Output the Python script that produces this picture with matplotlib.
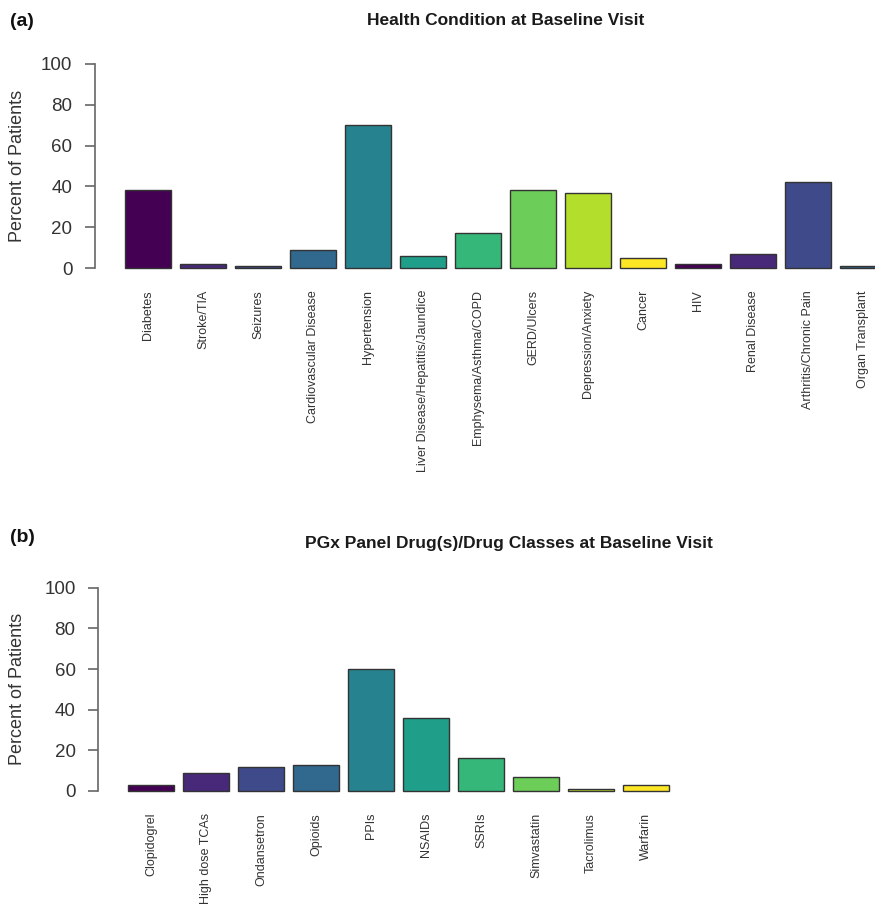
import matplotlib
matplotlib.use("Agg")
import matplotlib.pyplot as plt
import numpy as np

plt.rcParams['font.family'] = ['Liberation Sans', 'DejaVu Sans']

# panel (a)
conditions = ["Diabetes", "Stroke/TIA", "Seizures", "Cardiovascular Disease",
              "Hypertension", "Liver Disease/Hepatitis/Jaundice",
              "Emphysema/Asthma/COPD", "GERD/Ulcers", "Depression/Anxiety",
              "Cancer", "HIV", "Renal Disease", "Arthritis/Chronic Pain",
              "Organ Transplant"]
condition_pct = [38, 2, 1, 9, 70, 6, 17, 38, 37, 5, 2, 7, 42, 1]

# panel (b)
drugs = ["Clopidogrel", "High dose TCAs", "Ondansetron", "Opioids", "PPIs",
         "NSAIDs", "SSRIs", "Simvastatin", "Tacrolimus", "Warfarin"]
drug_pct = [3, 9, 12, 13, 60, 36, 16, 7, 1, 3]

# viridis(10) as R gives it, recycled over the bars
viridis10 = ["#440154", "#482878", "#3E4A89", "#31688E", "#26828E",
             "#1F9E89", "#35B779", "#6DCD59", "#B4DE2C", "#FDE725"]

W, H = 875, 905
fig = plt.figure(figsize=(W / 100, H / 100), dpi=100)


def draw_panel(rect, names, values, title, letter, letter_y):
    ax = fig.add_axes(rect)
    n = len(names)
    # R barplot layout: width 1, space 0.2
    x = 0.7 + 1.2 * np.arange(n)
    cols = [viridis10[i % 10] for i in range(n)]
    ax.bar(x, values, width=1.0, color=cols, edgecolor="#333333", linewidth=1.0)

    ax.set_xlim(-0.464, 17.464)
    ax.set_ylim(-4, 104)
    for s in ["top", "right", "bottom"]:
        ax.spines[s].set_visible(False)
    ax.spines["left"].set_bounds(0, 100)
    ax.spines["left"].set_color("#666666")
    ax.spines["left"].set_linewidth(1.2)

    ax.set_yticks([0, 20, 40, 60, 80, 100])
    ax.tick_params(axis="y", length=7.2, width=1.2, color="#666666",
                   pad=9, labelsize=13.5, labelcolor="#333333")
    ax.set_xticks(x)
    ax.set_xticklabels(names, rotation=90, va="top", ha="center",
                       fontsize=9, color="#333333")
    ax.tick_params(axis="x", length=0, pad=10)

    ax.set_title(title, fontsize=12.5, fontweight="bold", color="#1a1a1a",
                 pad=0, y=1.0)
    fig.text(10 / W, letter_y, letter, fontsize=14, fontweight="bold",
             ha="left", va="center", color="#111111")
    return ax


ax1 = draw_panel([95 / W, 1 - 276.2 / H, 821 / W, 220.4 / H],
                 conditions, condition_pct,
                 "Health Condition at Baseline Visit", "(a)", 1 - 21 / H)
ax1.title.set_position((0.5, 1.0))
ax1.title.set_y(1 + (55.8 - 18) / 220.4 - 0.03)

ax2 = draw_panel([98 / W, 1 - 799.1 / H, 821 / W, 219.5 / H],
                 drugs, drug_pct,
                 "PGx Panel Drug(s)/Drug Classes at Baseline Visit", "(b)",
                 1 - 538 / H)
ax2.title.set_y(1 + (579.6 - 541) / 219.5 - 0.03)

fig.text(18 / W, 1 - 166 / H, "Percent of Patients", rotation=90,
         ha="center", va="center", fontsize=13, color="#333333")
fig.text(18 / W, 1 - 689 / H, "Percent of Patients", rotation=90,
         ha="center", va="center", fontsize=13, color="#333333")

fig.savefig("out.png", dpi=100)
